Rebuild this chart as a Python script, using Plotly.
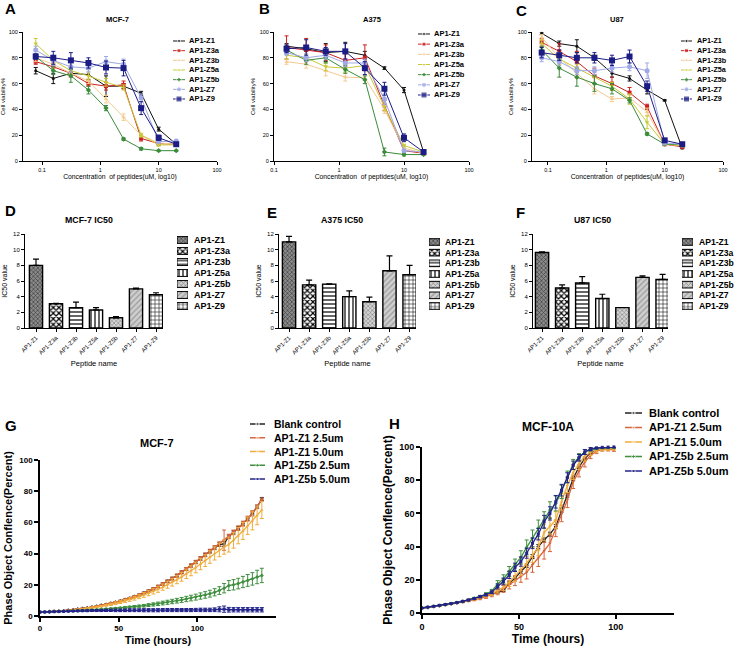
import plotly.graph_objects as go

FONT = "Liberation Sans, Arial, sans-serif"
W, H = 737, 649

# ---------------- data ----------------
peptides = ["AP1-Z1", "AP1-Z3a", "AP1-Z3b", "AP1-Z5a", "AP1-Z5b", "AP1-Z7", "AP1-Z9"]

conc_mcf7 = [0.078, 0.156, 0.3125, 0.625, 1.25, 2.5, 5, 10, 20]
conc_a375 = [0.156, 0.3125, 0.625, 1.25, 2.5, 5, 10, 20]
conc_u87 = [0.078, 0.156, 0.3125, 0.625, 1.25, 2.5, 5, 10, 20]

# cell viability %, one row per peptide (same order as peptides)
mcf7_mean = [
    [70, 64, 68, 67, 58, 58, 52.5, 24.7, 13],
    [77, 73, 68, 60, 58, 59, 17.5, 13.5, 13],
    [80, 75, 68, 62, 48, 34, 20, 14, 13],
    [91, 78, 70, 66, 61, 57, 20, 12.5, 12.5],
    [81, 70, 66, 55, 41, 17, 9.5, 8, 8],
    [86, 78, 73, 72, 77, 75, 49, 15, 15.5],
    [81, 80, 78, 76, 72.5, 72, 41, 18, 13],
]
mcf7_err = [
    [2.5, 4, 3, 4, 8, 2, 1.5, 1.5, 1],
    [2, 3, 3, 2, 3, 3, 2, 1, 1],
    [3, 3, 3, 2, 3, 2.5, 1, 1, 1],
    [4, 3, 3, 3, 3, 2, 1.5, 1, 1],
    [2, 3, 5, 3, 2, 1, 1, 0.5, 0.5],
    [3, 4, 4, 3, 4, 4, 3, 1, 1],
    [2, 5, 6, 4, 5, 6, 5, 2, 1],
]
a375_mean = [
    [89, 87, 84, 85, 82, 72, 55, 7],
    [88, 86, 84, 78, 80, 43, 8, 6],
    [77, 75, 70, 65, 64.5, 40, 10, 6],
    [82, 80, 73, 72, 74, 42, 12, 7],
    [86, 78, 80, 71, 63, 7, 5, 5],
    [84, 80, 82, 76, 76, 48, 8, 7],
    [87, 88, 85, 85, 72, 56, 18, 7],
]
a375_err = [
    [2, 2, 7, 7, 3, 1, 2, 1],
    [9, 9, 6, 5, 10, 4, 1, 1],
    [2, 3, 4, 3, 2, 3, 1, 1],
    [3, 3, 3, 3, 3, 3, 1, 1],
    [3, 3, 4, 3, 3, 3, 1, 0.5],
    [2, 3, 3, 3, 3, 4, 1, 1],
    [3, 6, 3, 6, 5, 5, 3, 1],
]
u87_mean = [
    [99, 91, 89, 80, 68, 64, 55, 47, 10],
    [92, 85, 77, 66, 60, 53, 42, 13, 11],
    [96, 80, 68, 56, 48, 49, 38, 13, 12],
    [91, 79, 72, 65, 58, 48, 30, 13, 12],
    [86, 72, 65, 60, 56, 47, 21, 13, 13],
    [80, 77, 70, 70, 72, 73, 70, 14, 13],
    [84, 82, 80, 80, 78, 81, 58, 16, 13],
]
u87_err = [
    [1, 2, 5, 2, 3, 2, 3, 0.5, 0.5],
    [3, 6, 8, 6, 5, 4, 2, 1, 1],
    [2, 4, 4, 4, 2, 2, 3, 1, 1],
    [3, 4, 3, 5, 3, 4, 5, 1, 1],
    [3, 7, 7, 6, 4, 2, 1, 0.5, 0.5],
    [3, 3, 3, 3, 3, 3, 6, 1, 1],
    [4, 4, 4, 4, 4, 5, 4, 1, 1],
]

# IC50 values
mcf7_ic50 = [8.0, 3.1, 2.6, 2.3, 1.3, 5.0, 4.25]
mcf7_ic50_err = [0.8, 0.05, 0.7, 0.3, 0.15, 0.08, 0.25]
a375_ic50 = [11.0, 5.5, 5.6, 4.0, 3.35, 7.3, 6.8]
a375_ic50_err = [0.7, 0.6, 0.05, 0.75, 0.6, 1.9, 1.2]
u87_ic50 = [9.63, 5.1, 5.75, 3.76, 2.6, 6.46, 6.2]
u87_ic50_err = [0.1, 0.4, 0.8, 0.55, 0.0, 0.2, 0.65]

# confluence time courses
groups = ["Blank control", "AP1-Z1 2.5um", "AP1-Z1 5.0um", "AP1-Z5b 2.5um", "AP1-Z5b 5.0um"]

hours_mcf7 = list(range(0, 142, 3))
g_mean = [
    [2.5, 2.6, 2.8, 3.0, 3.2, 3.4, 3.7, 4.0, 4.4, 4.8, 5.2, 5.7, 6.2, 6.8, 7.4, 8.1,
     8.8, 9.6, 10.5, 11.4, 12.4, 13.5, 14.7, 16.0, 17.4, 18.9, 20.5, 22.2, 24.0, 25.9, 28.0, 30.1,
     32.3, 34.6, 36.9, 39.2, 41.5, 43.8, 45.8, 46.2, 51.0, 53.6, 56.3, 59.2, 62.4, 65.8, 70.0, 75.0],
    [2.5, 2.6, 2.8, 3.0, 3.2, 3.4, 3.7, 4.0, 4.4, 4.8, 5.2, 5.7, 6.2, 6.8, 7.4, 8.1,
     8.8, 9.6, 10.5, 11.4, 12.4, 13.5, 14.7, 16.0, 17.4, 18.9, 20.5, 22.2, 24.0, 25.9, 28.0, 30.1,
     32.3, 34.6, 36.9, 39.2, 41.5, 43.8, 46.2, 48.6, 51.0, 53.6, 56.3, 59.2, 62.4, 65.8, 70.0, 74.6],
    [2.5, 2.6, 2.7, 2.9, 3.1, 3.3, 3.5, 3.8, 4.1, 4.5, 4.9, 5.3, 5.8, 6.3, 6.9, 7.5,
     8.2, 8.9, 9.7, 10.5, 11.4, 12.4, 13.5, 14.6, 15.8, 17.1, 18.5, 20.0, 21.6, 23.3, 25.1, 27.0,
     29.0, 31.1, 33.3, 35.5, 37.8, 40.1, 42.4, 44.2, 45.8, 48.5, 51.5, 54.5, 57.8, 61.0, 64.5, 68.0],
    [2.5, 2.6, 2.7, 2.8, 2.9, 3.0, 3.1, 3.2, 3.4, 3.5, 3.7, 3.9, 4.1, 4.3, 4.5, 4.7,
     4.9, 5.1, 5.4, 5.7, 6.0, 6.3, 6.6, 7.0, 7.4, 7.8, 8.3, 8.8, 9.3, 9.8, 10.3, 10.9,
     11.5, 12.1, 12.8, 13.5, 14.3, 15.2, 16.3, 17.8, 19.5, 20.0, 20.8, 21.8, 22.8, 23.8, 25.0, 26.0],
    [2.5, 2.6, 2.7, 2.8, 2.9, 3.0, 3.1, 3.2, 3.3, 3.4, 3.4, 3.5, 3.5, 3.5, 3.6, 3.6,
     3.6, 3.6, 3.6, 3.7, 3.7, 3.7, 3.7, 3.7, 3.7, 3.7, 3.8, 3.8, 3.8, 3.8, 3.8, 3.8,
     3.8, 3.9, 3.9, 3.9, 3.9, 4.0, 4.3, 4.4, 4.0, 4.0, 4.0, 4.0, 4.0, 4.0, 4.0, 4.0],
]
g_err = [
    [0.1, 0.1, 0.1, 0.1, 0.1, 0.1, 0.1, 0.2, 0.2, 0.2, 0.2, 0.3, 0.3, 0.3, 0.3, 0.4,
     0.4, 0.4, 0.4, 0.5, 0.5, 0.5, 0.6, 0.6, 0.6, 0.7, 0.7, 0.7, 0.8, 0.8, 0.8, 0.9,
     0.9, 0.9, 1.0, 1.0, 1.0, 1.0, 1.2, 1.5, 1.0, 1.0, 1.0, 1.0, 1.0, 1.0, 1.0, 1.0],
    [0.1, 0.1, 0.1, 0.1, 0.1, 0.1, 0.2, 0.2, 0.2, 0.2, 0.3, 0.3, 0.3, 0.3, 0.4, 0.4,
     0.4, 0.5, 0.5, 0.5, 0.6, 0.6, 0.6, 0.7, 0.7, 0.8, 0.8, 0.9, 0.9, 1.0, 1.0, 1.0,
     1.1, 1.1, 1.2, 1.2, 1.3, 1.3, 1.4, 6.5, 1.4, 1.5, 1.5, 1.6, 1.6, 1.7, 1.2, 1.0],
    [0.1, 0.1, 0.1, 0.1, 0.2, 0.2, 0.2, 0.3, 0.3, 0.3, 0.4, 0.4, 0.5, 0.5, 0.6, 0.7,
     0.8, 0.9, 1.0, 1.1, 1.2, 1.3, 1.5, 1.6, 1.7, 1.9, 2.0, 2.2, 2.4, 2.6, 2.8, 3.0,
     3.2, 3.4, 3.6, 3.8, 4.0, 4.2, 4.4, 4.6, 4.8, 5.0, 5.2, 5.4, 5.6, 5.8, 6.0, 5.5],
    [0.1, 0.1, 0.1, 0.1, 0.1, 0.1, 0.2, 0.2, 0.2, 0.2, 0.3, 0.3, 0.3, 0.4, 0.4, 0.4,
     0.5, 0.5, 0.6, 0.6, 0.7, 0.7, 0.8, 0.9, 1.0, 1.1, 1.2, 1.3, 1.4, 1.5, 1.6, 1.7,
     1.8, 1.9, 2.0, 2.1, 2.2, 2.3, 2.5, 3.0, 3.2, 3.3, 3.4, 3.6, 3.8, 4.0, 4.3, 4.6],
    [0.1, 0.1, 0.1, 0.2, 0.2, 0.2, 0.3, 0.3, 0.4, 0.4, 0.5, 0.5, 0.6, 0.6, 0.7, 0.7,
     0.8, 0.8, 0.8, 0.9, 0.9, 0.9, 1.0, 1.0, 1.0, 1.0, 1.0, 1.0, 1.0, 1.0, 1.0, 1.0,
     1.0, 1.0, 1.1, 1.1, 1.1, 1.2, 1.6, 2.0, 1.5, 1.4, 1.4, 1.4, 1.4, 1.4, 1.4, 1.4],
]

hours_10a = list(range(0, 100, 3))
h_mean = [
    [3.0, 3.4, 3.9, 4.4, 5.0, 5.6, 6.2, 6.9, 7.7, 8.4, 9.2, 10.2, 11.4, 12.5, 13.5, 18.0, 21.0,
     25.0, 28.5, 34.0, 40.0, 44.0, 47.5, 52.0, 62.0, 71.0, 81.0, 88.0, 93.0, 96.5, 98.5, 99.2, 99.5, 99.6],
    [3.0, 3.4, 3.9, 4.4, 4.9, 5.4, 6.0, 6.6, 7.3, 8.0, 8.8, 9.8, 11.0, 12.5, 14.5, 17.0, 19.5,
     22.0, 24.5, 29.0, 33.0, 37.5, 42.0, 51.0, 60.0, 68.0, 79.0, 85.5, 91.0, 95.0, 97.5, 98.5, 98.6, 98.4],
    [3.0, 3.4, 3.9, 4.4, 5.0, 5.6, 6.2, 6.9, 7.7, 8.5, 9.4, 10.5, 11.8, 13.5, 15.5, 18.5, 22.0,
     26.0, 30.0, 35.0, 39.5, 48.5, 52.5, 56.0, 67.0, 77.0, 84.5, 90.0, 94.5, 97.0, 98.3, 98.7, 98.9, 99.0],
    [3.0, 3.5, 4.0, 4.6, 5.1, 5.7, 6.3, 7.0, 7.9, 8.9, 10.0, 11.4, 13.2, 17.5, 20.5, 25.0, 29.0,
     33.5, 39.5, 45.0, 51.0, 56.0, 62.0, 66.0, 73.0, 82.0, 89.5, 94.0, 97.0, 98.5, 99.2, 99.5, 99.6, 99.7],
    [3.0, 3.5, 4.0, 4.6, 5.1, 5.7, 6.3, 7.0, 7.8, 8.7, 9.8, 11.0, 12.5, 16.0, 19.0, 23.0, 27.5,
     31.0, 36.0, 42.0, 47.5, 55.0, 60.0, 67.0, 74.0, 81.5, 89.0, 93.5, 97.0, 98.8, 99.5, 99.8, 99.9, 100.0],
]
h_err = [
    [0.1, 0.1, 0.1, 0.1, 0.2, 0.2, 0.2, 0.3, 0.3, 0.4, 0.4, 0.5, 0.5, 0.6, 0.6, 0.8, 0.8,
     1.0, 1.0, 1.2, 1.2, 1.2, 1.2, 1.2, 1.2, 1.2, 1.0, 1.0, 0.8, 0.6, 0.4, 0.3, 0.3, 0.3],
    [0.1, 0.1, 0.1, 0.2, 0.2, 0.2, 0.3, 0.4, 0.5, 0.6, 0.8, 1.0, 1.2, 1.5, 2.0, 2.5, 3.0,
     3.5, 4.0, 4.5, 5.0, 5.0, 5.0, 5.0, 5.0, 4.5, 4.0, 3.5, 3.0, 2.0, 1.5, 1.0, 1.0, 1.0],
    [0.1, 0.1, 0.1, 0.2, 0.2, 0.3, 0.3, 0.4, 0.5, 0.6, 0.8, 1.0, 1.2, 1.5, 2.0, 2.5, 3.0,
     3.5, 4.0, 4.5, 5.0, 5.0, 5.0, 5.0, 5.0, 4.5, 4.0, 3.5, 3.0, 2.0, 1.5, 1.0, 0.8, 0.8],
    [0.1, 0.1, 0.1, 0.2, 0.2, 0.2, 0.3, 0.3, 0.4, 0.5, 0.6, 0.8, 1.0, 2.0, 2.5, 3.0, 3.5,
     4.0, 4.5, 5.0, 5.0, 5.0, 5.0, 4.5, 4.0, 3.5, 3.0, 2.0, 1.5, 1.0, 0.6, 0.5, 0.4, 0.3],
    [0.1, 0.1, 0.1, 0.2, 0.2, 0.2, 0.3, 0.3, 0.4, 0.5, 0.6, 0.7, 0.8, 1.5, 2.0, 2.2, 2.5,
     2.8, 3.0, 3.2, 3.5, 3.8, 4.0, 3.8, 3.5, 3.0, 2.5, 2.0, 1.5, 1.0, 0.6, 0.4, 0.3, 0.3],
]

# ---------------- styles ----------------
pep_colors = ["#111111", "#cc1f1f", "#f5c98f", "#c9c936", "#3b8b3b", "#9fa9e6", "#1c1c85"]
pep_symbols = ["circle", "square", "triangle-up", "triangle-down", "diamond", "circle", "square"]
pep_sizes = [3, 4, 4, 4, 4, 5, 6]

bar_shapes = ["x", "x", "-", "|", "x", "/", "+"]
bar_bg = ["#8c8c8c", "#ffffff", "#ffffff", "#ffffff", "#d4d4d4", "#cfcfcf", "#ffffff"]
bar_fg = ["#3c3c3c", "#000000", "#000000", "#000000", "#7a7a7a", "#9a9a9a", "#000000"]
bar_size = [3, 4, 4, 4, 3, 4, 4]
bar_solid = [0.4, 0.5, 0.3, 0.3, 0.35, 0.3, 0.25]

grp_colors = ["#222222", "#d8643a", "#f0ac3c", "#3f8f3f", "#23238a"]
grp_symbols = ["cross", "triangle-down", "triangle-up", "diamond", "square"]

fig = go.Figure()
annotations = []
n_axes = 0


def fx(px):
    return px / W


def fy(py):
    return 1 - py / H


def add_axes(x0, x1, ytop, ybot, xa, ya):
    global n_axes
    n_axes += 1
    s = "" if n_axes == 1 else str(n_axes)
    fig.update_layout({
        "xaxis" + s: dict(domain=[fx(x0), fx(x1)], anchor="y" + s, automargin=False, **xa),
        "yaxis" + s: dict(domain=[fy(ybot), fy(ytop)], anchor="x" + s, automargin=False, **ya),
    })
    return "x" + s, "y" + s


def text(x, y, s, size, bold=True, xanchor="center", xref="paper", yref="paper"):
    annotations.append(dict(
        x=x, y=y, xref=xref, yref=yref, text=f"<b>{s}</b>" if bold else s,
        showarrow=False, xanchor=xanchor, yanchor="middle",
        font=dict(size=size, family=FONT, color="black")))


def bar_marker(i, lw):
    return dict(color=bar_bg[i], line=dict(color="#000000", width=lw),
                pattern=dict(shape=bar_shapes[i], fillmode="overlay", fgcolor=bar_fg[i],
                             fgopacity=1, size=bar_size[i], solidity=bar_solid[i]))


def line_legend(x0, x1, xtext, yfirst, ylast, names, colors, symbols, sizes, fsize, lw=1):
    n = len(names)
    step = (ylast - yfirst) / (n - 1)
    xa, ya = add_axes(x0, x1, yfirst - step / 2, ylast + step / 2,
                      dict(visible=False, range=[0, 1], fixedrange=True),
                      dict(visible=False, range=[n - 0.5, -0.5], fixedrange=True))
    for i in range(n):
        fig.add_trace(go.Scatter(
            x=[0, 0.5, 1], y=[i, i, i], mode="lines+markers",
            line=dict(color=colors[i], width=lw),
            marker=dict(symbol=symbols[i], size=[0, sizes[i], 0], color=colors[i]),
            xaxis=xa, yaxis=ya, showlegend=False, hoverinfo="skip"))
        text(fx(xtext), i, names[i], fsize, xanchor="left", yref=ya)


def bar_legend(x0, x1, xtext, yfirst, ylast, fsize):
    n = len(peptides)
    step = (ylast - yfirst) / (n - 1)
    xa, ya = add_axes(x0, x1, yfirst - step / 2, ylast + step / 2,
                      dict(visible=False, range=[0, 1], fixedrange=True),
                      dict(visible=False, range=[n - 0.5, -0.5], fixedrange=True))
    for i in range(n):
        fig.add_trace(go.Bar(
            x=[1], y=[i], orientation="h", width=0.62, marker=bar_marker(i, 1),
            xaxis=xa, yaxis=ya, showlegend=False, hoverinfo="skip"))
        text(fx(xtext), i, peptides[i], fsize, xanchor="left", yref=ya)


def viability_panel(x0, x1, xlo, conc, means, errs, title, tx):
    xa, ya = add_axes(
        x0, x1, 32, 161,
        dict(type="log", range=[xlo, 2], showline=True, linecolor="black", linewidth=1,
             ticks="outside", ticklen=3, tickcolor="black", showgrid=False, zeroline=False,
             tickvals=[0.1, 1, 10, 100], ticktext=["0.1", "1", "10", "100"],
             tickfont=dict(size=5.5, family=FONT, color="black"),
             title=dict(text="Concentration  of peptides(uM, log10)", standoff=1,
                        font=dict(size=6.8, family=FONT, color="black"))),
        dict(range=[0, 100], showline=True, linecolor="black", linewidth=1,
             ticks="outside", ticklen=3, tickcolor="black", showgrid=False, zeroline=False,
             tickvals=[0, 20, 40, 60, 80, 100],
             tickfont=dict(size=5.5, family=FONT, color="black"),
             title=dict(text="Cell viability%", standoff=3,
                        font=dict(size=6, family=FONT, color="black"))))
    for i in range(len(peptides)):
        fig.add_trace(go.Scatter(
            x=conc, y=means[i], mode="lines+markers", cliponaxis=False,
            line=dict(color=pep_colors[i], width=1),
            marker=dict(symbol=pep_symbols[i], size=pep_sizes[i], color=pep_colors[i]),
            error_y=dict(type="data", array=errs[i], color=pep_colors[i], thickness=1, width=2),
            xaxis=xa, yaxis=ya, showlegend=False))
    text(fx(tx), fy(19), title, 7.5)


def ic50_panel(x0, x1, xlo, xhi, vals, errs, title, tx):
    xa, ya = add_axes(
        x0, x1, 234, 328,
        dict(type="category", range=[xlo, xhi], showline=True, linecolor="black", linewidth=1,
             ticks="outside", ticklen=3, tickcolor="black", showgrid=False, tickangle=-45,
             categoryorder="array", categoryarray=peptides,
             tickfont=dict(size=6, family=FONT, color="black"),
             title=dict(text="Peptide name", standoff=5,
                        font=dict(size=7.5, family=FONT, color="black"))),
        dict(range=[0, 12], showline=True, linecolor="black", linewidth=1,
             ticks="outside", ticklen=3, tickcolor="black", showgrid=False, zeroline=False,
             tickvals=[0, 2, 4, 6, 8, 10, 12],
             tickfont=dict(size=6, family=FONT, color="black"),
             title=dict(text="IC50 value", standoff=4,
                        font=dict(size=7, family=FONT, color="black"))))
    for i, name in enumerate(peptides):
        fig.add_trace(go.Bar(
            x=[name], y=[vals[i]], width=0.66, marker=bar_marker(i, 1.4),
            error_y=dict(type="data", array=[errs[i]], arrayminus=[0], symmetric=False,
                         color="black", thickness=1.2, width=3, visible=errs[i] > 0),
            xaxis=xa, yaxis=ya, showlegend=False))
    text(fx(tx), fy(220), title, 8.8)


def growth_panel(x0, x1, ytop, ybot, xmax, hours, means, errs, title, tx, ty, fs_tick, fs_title):
    xa, ya = add_axes(
        x0, x1, ytop, ybot,
        dict(range=[0, xmax], showline=True, linecolor="black", linewidth=1.6,
             ticks="outside", ticklen=4, tickwidth=1.6, tickcolor="black", showgrid=False,
             zeroline=False, tickvals=[0, 50, 100],
             tickfont=dict(size=fs_tick, family=FONT, color="black", weight="bold"),
             title=dict(text="<b>Time (hours)</b>", standoff=4,
                        font=dict(size=fs_title, family=FONT, color="black"))),
        dict(range=[0, 100], showline=True, linecolor="black", linewidth=1.6,
             ticks="outside", ticklen=4, tickwidth=1.6, tickcolor="black", showgrid=False,
             zeroline=False, tickvals=[0, 20, 40, 60, 80, 100],
             tickfont=dict(size=fs_tick, family=FONT, color="black", weight="bold"),
             title=dict(text="<b>Phase Object Conflence(Percent)</b>", standoff=4,
                        font=dict(size=fs_title, family=FONT, color="black"))))
    for i in range(len(groups)):
        fig.add_trace(go.Scatter(
            x=hours, y=means[i], mode="lines+markers", cliponaxis=False,
            line=dict(color=grp_colors[i], width=1.3),
            marker=dict(symbol=grp_symbols[i], size=3, color=grp_colors[i]),
            error_y=dict(type="data", array=errs[i], color=grp_colors[i], thickness=1, width=2),
            xaxis=xa, yaxis=ya, showlegend=False))
    text(fx(tx), fy(ty), title, fs_title)


# ---------------- top row: viability curves ----------------
viability_panel(23, 217, -1.326, conc_mcf7, mcf7_mean, mcf7_err, "MCF-7", 117)
viability_panel(274, 469, -1.0, conc_a375, a375_mean, a375_err, "A375", 372)
viability_panel(532, 723, -1.274, conc_u87, u87_mean, u87_err, "U87", 617)

line_legend(173, 185, 187, 41, 99, peptides, pep_colors, pep_symbols, pep_sizes, 7.5)
line_legend(418, 430, 432, 34, 95, peptides, pep_colors, pep_symbols, pep_sizes, 7.5)
line_legend(681, 692, 695, 41, 99, peptides, pep_colors, pep_symbols, pep_sizes, 7.2)

# ---------------- middle row: IC50 bars ----------------
ic50_panel(25, 163, -0.55, 6.35, mcf7_ic50, mcf7_ic50_err, "MCF-7 IC50", 89)
ic50_panel(279, 416, -0.5, 6.32, a375_ic50, a375_ic50_err, "A375 IC50", 342)
ic50_panel(533, 668, -0.45, 6.27, u87_ic50, u87_ic50_err, "U87 IC50", 592)

bar_legend(177, 188, 192, 240, 306, 9)
bar_legend(429, 440, 443, 242, 306, 8.6)
bar_legend(682, 693, 697, 242, 306, 8.6)

# ---------------- bottom row: confluence ----------------
growth_panel(40, 276, 460, 616, 150, hours_mcf7, g_mean, g_err, "MCF-7", 157, 443, 8, 11)
growth_panel(422, 674, 447, 613, 130, hours_10a, h_mean, h_err, "MCF-10A", 548, 427, 9, 12)

line_legend(250, 265, 272, 424, 479, groups, grp_colors, grp_symbols, [3] * 5, 10.5, lw=1.3)
line_legend(625, 642, 647, 413, 471, groups, grp_colors, grp_symbols, [3] * 5, 11, lw=1.3)

# ---------------- panel letters ----------------
for letter, lx, ly in [("A", 3, 9), ("B", 257, 9), ("C", 514, 10), ("D", 3, 210),
                       ("E", 265, 213), ("F", 514, 213), ("G", 3, 425), ("H", 387, 424)]:
    text(fx(lx), fy(ly), letter, 15, xanchor="left")

fig.update_layout(
    template="none",
    width=W, height=H, autosize=False,
    margin=dict(l=0, r=0, t=0, b=0),
    paper_bgcolor="white", plot_bgcolor="white",
    font=dict(family=FONT, color="black"),
    showlegend=False, barmode="overlay",
    annotations=annotations,
)

# the page body has a default 8px margin; drop it so the figure sits at 0,0
fig.write_html("out.html", config={"displayModeBar": False},
               post_script="document.body.style.margin = '0';")
